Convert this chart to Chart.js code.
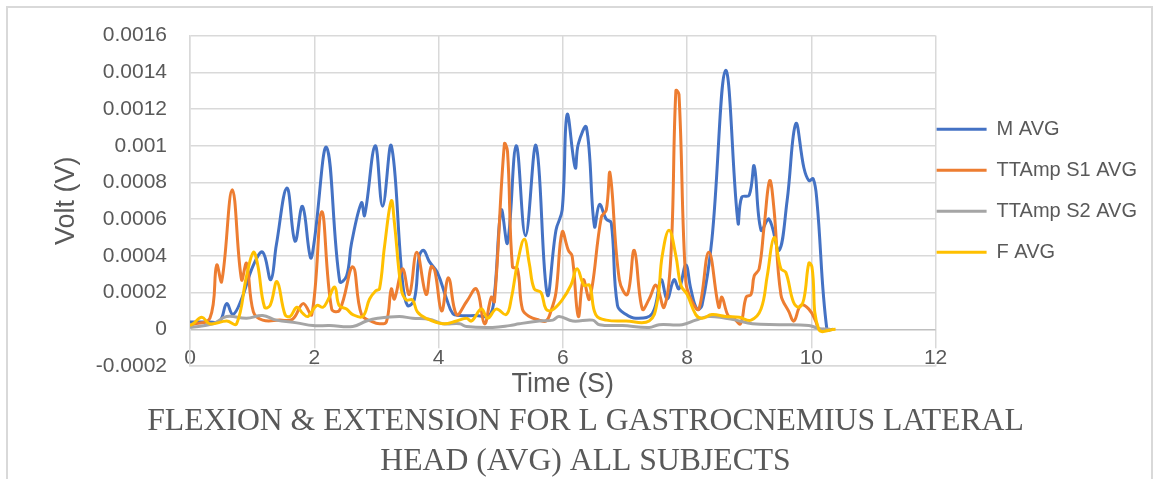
<!DOCTYPE html>
<html>
<head>
<meta charset="utf-8">
<script src="https://cdn.jsdelivr.net/npm/chart.js@4.4.1/dist/chart.umd.min.js"></script>
<style>
  html, body { margin: 0; padding: 0; background: #fff; }
</style>
</head>
<body>
<canvas id="emgChart" width="1154" height="479"></canvas>
<script>
// ================= DATA (time in s, volt in V) =================
const mAvg = [
  [0, 0.4e-4], [0.3, 0.4e-4], [0.48, 0.45e-4], [0.59, 1.4e-4], [0.69, 0.8e-4], [0.83, 1.65e-4],
  [1.02, 3.5e-4], [1.17, 4.2e-4], [1.30, 2.7e-4], [1.39, 4.6e-4], [1.56, 7.7e-4], [1.69, 4.8e-4],
  [1.81, 6.7e-4], [1.94, 3.9e-4], [2.0, 4.8e-4], [2.2, 9.9e-4], [2.41, 2.6e-4], [2.52, 2.9e-4],
  [2.6, 4.7e-4], [2.76, 6.9e-4], [2.81, 6.2e-4], [2.98, 10.0e-4], [3.10, 6.7e-4], [3.24, 10.0e-4],
  [3.42, 2.6e-4], [3.50, 1.3e-4], [3.61, 1.6e-4], [3.69, 4.0e-4], [3.76, 4.3e-4], [3.85, 3.7e-4],
  [3.98, 3.1e-4], [4.13, 1.65e-4], [4.23, 0.85e-4], [4.34, 0.75e-4], [4.6, 0.75e-4], [4.82, 0.75e-4],
  [4.90, 1.9e-4], [5.01, 6.5e-4], [5.11, 4.7e-4], [5.25, 10.0e-4], [5.40, 5.1e-4], [5.57, 10.0e-4],
  [5.75, 1.9e-4], [5.89, 5.4e-4], [5.99, 6.5e-4], [6.07, 11.7e-4], [6.20, 8.8e-4], [6.25, 10.1e-4],
  [6.38, 11.0e-4], [6.51, 5.6e-4], [6.59, 6.8e-4], [6.70, 6.0e-4], [6.78, 5.8e-4], [6.88, 1.3e-4],
  [7.02, 0.8e-4], [7.18, 0.6e-4], [7.44, 0.85e-4], [7.58, 2.7e-4], [7.68, 1.65e-4], [7.79, 2.7e-4],
  [7.87, 2.2e-4], [7.98, 3.5e-4], [8.06, 2.2e-4], [8.16, 1.1e-4], [8.24, 1.3e-4], [8.40, 4.9e-4],
  [8.62, 14.1e-4], [8.82, 5.8e-4], [8.88, 7.2e-4], [9.0, 7.3e-4], [9.08, 8.9e-4], [9.19, 5.4e-4],
  [9.32, 6.0e-4], [9.48, 4.3e-4], [9.61, 7.0e-4], [9.75, 11.2e-4], [9.88, 8.8e-4], [9.96, 8.1e-4],
  [10.03, 8.2e-4], [10.09, 7.0e-4], [10.25, 0], [10.35, 0]
];

const s1Avg = [
  [0, 0.2e-4], [0.05, 0.27e-4], [0.32, 0.6e-4], [0.43, 3.5e-4], [0.51, 2.6e-4], [0.68, 7.6e-4],
  [0.83, 2.7e-4], [0.91, 3.6e-4], [1.02, 0.95e-4], [1.17, 0.5e-4], [1.44, 0.5e-4], [1.65, 0.55e-4],
  [1.82, 1.4e-4], [1.96, 0.8e-4], [2.12, 6.4e-4], [2.28, 1.1e-4], [2.41, 1.05e-4], [2.62, 3.4e-4],
  [2.76, 0.8e-4], [2.94, 0.4e-4], [3.05, 0.3e-4], [3.16, 0.4e-4], [3.24, 2.2e-4], [3.29, 1.65e-4],
  [3.42, 3.3e-4], [3.53, 1.9e-4], [3.65, 4.2e-4], [3.80, 1.9e-4], [3.88, 3.4e-4], [3.94, 3.2e-4],
  [4.05, 1.0e-4], [4.16, 2.8e-4], [4.29, 0.8e-4], [4.45, 1.5e-4], [4.61, 2.2e-4], [4.74, 0.3e-4],
  [4.85, 1.75e-4], [4.90, 1.5e-4], [5.06, 10.1e-4], [5.11, 9.7e-4], [5.19, 3.4e-4], [5.27, 3.3e-4],
  [5.35, 1.1e-4], [5.46, 0.7e-4], [5.62, 0.5e-4], [5.73, 0.45e-4], [5.81, 1.0e-4], [5.89, 2.0e-4],
  [5.99, 5.3e-4], [6.09, 4.3e-4], [6.15, 4.0e-4], [6.25, 0.7e-4], [6.33, 2.7e-4], [6.43, 1.65e-4],
  [6.62, 6.1e-4], [6.70, 6.5e-4], [6.76, 8.5e-4], [6.91, 2.7e-4], [7.04, 1.9e-4], [7.15, 4.3e-4],
  [7.28, 1.1e-4], [7.39, 1.65e-4], [7.50, 2.4e-4], [7.63, 1.2e-4], [7.74, 4.0e-4], [7.82, 13.0e-4],
  [7.87, 12.8e-4], [7.98, 2.6e-4], [8.08, 1.5e-4], [8.19, 1.1e-4], [8.35, 4.2e-4], [8.51, 1.2e-4],
  [8.56, 1.75e-4], [8.66, 0.75e-4], [8.75, 0.6e-4], [8.86, 0.3e-4], [8.95, 1.75e-4], [9.03, 1.9e-4],
  [9.08, 2.9e-4], [9.16, 3.3e-4], [9.24, 5.6e-4], [9.33, 8.1e-4], [9.40, 6.5e-4], [9.51, 1.9e-4],
  [9.64, 0.95e-4], [9.72, 0.45e-4], [9.83, 1.3e-4], [9.96, 1.1e-4], [10.07, 0.45e-4], [10.12, 0],
  [10.2, 0]
];

const s2Avg = [
  [0, 0.1e-4], [0.37, 0.3e-4], [0.59, 0.7e-4], [0.91, 0.6e-4], [1.17, 0.75e-4], [1.39, 0.5e-4],
  [1.72, 0.35e-4], [1.98, 0.2e-4], [2.25, 0.2e-4], [2.62, 0.15e-4], [2.84, 0.45e-4], [3.02, 0.6e-4],
  [3.37, 0.7e-4], [3.58, 0.6e-4], [3.85, 0.55e-4], [4.07, 0.3e-4], [4.34, 0.3e-4], [4.45, 0.15e-4],
  [4.87, 0.1e-4], [5.14, 0.2e-4], [5.30, 0.3e-4], [5.62, 0.45e-4], [5.84, 0.5e-4], [5.94, 0.7e-4],
  [6.16, 0.45e-4], [6.48, 0.5e-4], [6.59, 0.25e-4], [6.96, 0.2e-4], [7.39, 0.1e-4], [7.55, 0.25e-4],
  [7.92, 0.25e-4], [8.14, 0.5e-4], [8.35, 0.7e-4], [8.62, 0.6e-4], [8.79, 0.5e-4], [9.05, 0.3e-4],
  [9.48, 0.25e-4], [9.96, 0.2e-4], [10.12, 0.05e-4], [10.3, 0]
];

const fAvg = [
  [0, 0.2e-4], [0.05, 0.3e-4], [0.19, 0.65e-4], [0.32, 0.3e-4], [0.59, 0.45e-4], [0.75, 0.3e-4],
  [0.91, 2.9e-4], [1.02, 4.2e-4], [1.09, 3.5e-4], [1.20, 1.2e-4], [1.29, 1.3e-4], [1.40, 2.6e-4],
  [1.53, 0.8e-4], [1.61, 0.7e-4], [1.72, 1.2e-4], [1.82, 0.85e-4], [1.90, 0.7e-4], [2.04, 1.3e-4],
  [2.14, 1.2e-4], [2.22, 1.6e-4], [2.33, 2.3e-4], [2.40, 1.3e-4], [2.52, 1.1e-4], [2.62, 0.8e-4],
  [2.78, 0.7e-4], [2.89, 1.65e-4], [2.99, 2.1e-4], [3.05, 2.2e-4], [3.13, 4.5e-4], [3.24, 7.0e-4],
  [3.29, 5.8e-4], [3.40, 2.2e-4], [3.48, 1.6e-4], [3.58, 1.6e-4], [3.66, 0.95e-4], [3.80, 0.6e-4],
  [4.07, 0.3e-4], [4.29, 0.45e-4], [4.45, 0.6e-4], [4.53, 0.45e-4], [4.69, 1.1e-4], [4.79, 0.6e-4],
  [4.93, 1.1e-4], [5.09, 0.8e-4], [5.17, 1.65e-4], [5.27, 3.6e-4], [5.38, 4.9e-4], [5.46, 3.6e-4],
  [5.54, 2.2e-4], [5.65, 2.0e-4], [5.73, 1.1e-4], [5.83, 1.05e-4], [5.99, 1.6e-4], [6.13, 2.4e-4],
  [6.23, 3.3e-4], [6.34, 2.4e-4], [6.43, 2.4e-4], [6.53, 0.8e-4], [6.70, 0.5e-4], [7.02, 0.45e-4],
  [7.39, 0.45e-4], [7.52, 1.5e-4], [7.60, 4.0e-4], [7.71, 5.4e-4], [7.82, 4.0e-4], [7.90, 2.4e-4],
  [8.00, 1.9e-4], [8.14, 0.8e-4], [8.24, 0.6e-4], [8.40, 0.8e-4], [8.62, 0.7e-4], [8.84, 0.65e-4],
  [9.03, 0.5e-4], [9.19, 1.1e-4], [9.29, 2.9e-4], [9.40, 5.0e-4], [9.51, 3.3e-4], [9.59, 3.1e-4],
  [9.71, 1.5e-4], [9.80, 1.2e-4], [9.88, 1.65e-4], [9.96, 3.6e-4], [10.01, 3.4e-4], [10.12, 0],
  [10.39, 0]
];

const seriesNames = ["M AVG", "TTAmp S1 AVG", "TTAmp S2 AVG", "F AVG"];
const captionLines = ["FLEXION & EXTENSION FOR L GASTROCNEMIUS LATERAL", "HEAD (AVG) ALL SUBJECTS"];

const GRID = '#d9d9d9';
const TEXT = '#595959';

Chart.defaults.font.family = "'Liberation Sans', Arial, sans-serif";
Chart.defaults.color = TEXT;

function makeSeries(label, points, color, order) {
  return {
    label: label,
    data: points.map(p => ({ x: p[0], y: p[1] })),
    borderColor: color,
    backgroundColor: color,
    borderWidth: 3,
    pointRadius: 0,
    showLine: true,
    tension: 0.4,
    order: order // F AVG drawn on top, like Excel
  };
}

// white background + light frame round the chart
const chartFrame = {
  id: 'chartFrame',
  beforeDraw(chart) {
    const ctx = chart.ctx;
    ctx.save();
    ctx.fillStyle = '#fff';
    ctx.fillRect(0, 0, chart.width, chart.height);
    ctx.strokeStyle = GRID;
    ctx.lineWidth = 2;
    ctx.beginPath();
    ctx.moveTo(7, chart.height);
    ctx.lineTo(7, 7);
    ctx.lineTo(1152, 7);
    ctx.lineTo(1152, chart.height);
    ctx.stroke();
    ctx.restore();
  }
};

const ctx = document.getElementById("emgChart").getContext("2d");
new Chart(ctx, {
  type: "scatter",
  data: {
    datasets: [
      makeSeries(seriesNames[0], mAvg, '#4472C4', 4),
      makeSeries(seriesNames[1], s1Avg, '#ED7D31', 3),
      makeSeries(seriesNames[2], s2Avg, '#A5A5A5', 2),
      makeSeries(seriesNames[3], fAvg, '#FFC000', 1)
    ]
  },
  options: {
    responsive: false,
    animation: false,
    layout: { padding: { top: 28, left: 24, right: 7, bottom: 0 } },
    plugins: {
      tooltip: { enabled: false },
      legend: {
        position: 'right',
        fullSize: false,
        reverse: true,
        labels: {
          usePointStyle: true,
          pointStyle: 'line',
          pointStyleWidth: 50,
          padding: 1,
          color: TEXT,
          font: { size: 20, lineHeight: 2.0 },
          // array text so each row takes the font line height (41px rows)
          generateLabels(chart) {
            const items = Chart.defaults.plugins.legend.labels.generateLabels(chart);
            return items.map(item => ({ ...item, text: [item.text] }));
          }
        }
      },
      title: {
        display: true,
        position: 'bottom',
        text: captionLines,
        color: TEXT,
        font: { family: "'Liberation Serif', 'Times New Roman', serif", size: 31.7, weight: 'normal', lineHeight: 40 / 31.7 },
        padding: { top: 0, bottom: -3 }
      }
    },
    scales: {
      x: {
        type: 'linear',
        min: 0,
        max: 12,
        afterFit(scale) { scale.height = 36; },
        ticks: {
          stepSize: 2,
          mirror: true, // labels sit just above the bottom line, inside the plot
          padding: -4.5,
          font: { size: 21 },
          color: TEXT,
          showLabelBackdrop: true,
          backdropColor: '#fff',
          backdropPadding: { top: -3, bottom: -6, left: 1, right: 1 }
        },
        grid: { color: GRID, lineWidth: 1.5, drawTicks: false },
        border: { color: GRID, width: 1.5 },
        title: { display: true, text: 'Time (S)', color: TEXT, font: { size: 27 }, padding: { top: 0, bottom: 1 } }
      },
      y: {
        min: -0.0002,
        max: 0.0016,
        afterFit(scale) { scale.width = 166; },
        ticks: {
          stepSize: 0.0002,
          padding: 23,
          font: { size: 21 },
          color: TEXT,
          callback: v => Number(v.toFixed(4)).toString()
        },
        grid: {
          drawTicks: false,
          lineWidth: 1.5,
          color: c => Math.abs(c.tick.value) < 1e-9 ? '#bfbfbf' : GRID
        },
        border: { color: GRID, width: 1.5 },
        title: { display: true, text: 'Volt (V)', color: TEXT, font: { size: 27 }, padding: { top: 26 } }
      }
    }
  },
  plugins: [chartFrame]
});
</script>
</body>
</html>
